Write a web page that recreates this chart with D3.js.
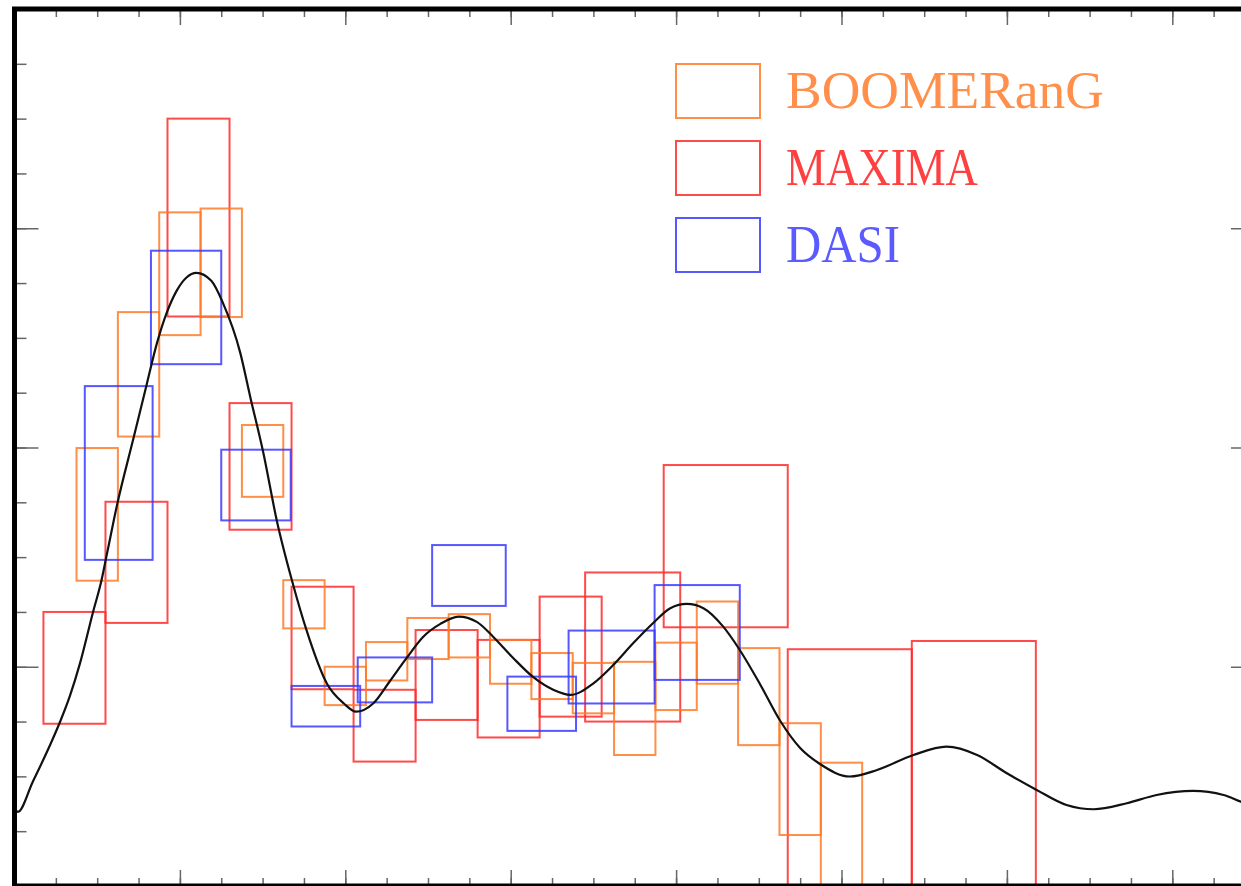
<!DOCTYPE html>
<html>
<head>
<meta charset="utf-8">
<script src="https://cdn.jsdelivr.net/npm/d3@7"></script>
<style>
  body { margin: 0; background: #fff; }
</style>
</head>
<body>
<div id="chart"></div>
<script>
// band powers, one box per bin: [l_min, l_max, low, high]
const boomerang = [
  [75, 125, 2785, 3995],
  [125, 175, 4100, 5235],
  [175, 225, 5025, 6145],
  [225, 275, 5190, 6180],
  [275, 325, 3550, 4205],
  [325, 375, 2350, 2790],
  [375, 425, 1650, 2000],
  [425, 475, 1875, 2225],
  [475, 525, 2070, 2445],
  [525, 575, 2085, 2480],
  [575, 625, 1845, 2245],
  [625, 675, 1705, 2125],
  [675, 725, 1575, 2035],
  [725, 775, 1195, 2045],
  [775, 825, 1605, 2220],
  [825, 875, 1845, 2595],
  [875, 925, 1285, 2170],
  [925, 975, 465, 1485],
  [975, 1025, -300, 1125]
];

const maxima = [
  [35, 110, 1480, 2500],
  [110, 185, 2400, 3505],
  [185, 260, 5195, 7000],
  [260, 335, 3250, 4405],
  [335, 410, 1795, 2730],
  [410, 485, 1135, 1790],
  [485, 560, 1515, 2335],
  [560, 635, 1355, 2245],
  [635, 710, 1545, 2640],
  [690, 805, 1500, 2860],
  [785, 935, 2360, 3840],
  [935, 1085, -500, 2160],
  [1085, 1235, -500, 2235]
];

const dasi = [
  [85, 167, 2975, 4560],
  [165, 250, 4760, 5795],
  [250, 334, 3335, 3980],
  [335, 418, 1455, 1825],
  [415, 505, 1675, 2085],
  [505, 594, 2555, 3110],
  [596, 679, 1415, 1910],
  [670, 774, 1665, 2330],
  [774, 877, 1880, 2745]
];

// model curve
const theoryL = [2, 4, 22, 43, 55, 67, 79, 95, 105, 112, 124, 144, 160, 172, 184, 196, 208,
  220, 238, 252, 273, 285, 301, 317, 337, 353, 378, 398, 413, 434, 454, 474, 494, 515,
  537, 559, 579, 603, 627, 652, 672, 700, 724, 748, 772, 793, 813, 833, 857, 877, 902,
  926, 950, 974, 1010, 1043, 1087, 1127, 1164, 1200, 1236, 1272, 1305, 1345, 1381, 1425,
  1462, 1483, 1500];
const theoryD = [690, 675, 949, 1286, 1496, 1734, 2026, 2500, 2783, 3038, 3476, 4088, 4580, 4945, 5228, 5429, 5551,
  5593, 5520, 5319, 4863, 4464, 3948, 3339, 2746, 2336, 1843, 1667, 1590, 1667, 1870, 2078, 2272, 2391,
  2457, 2409, 2272, 2080, 1907, 1788, 1743, 1849, 2016, 2214, 2397, 2534, 2573, 2534, 2366, 2153, 1834,
  1505, 1259, 1113, 999, 1058, 1195, 1271, 1195, 1028, 876, 739, 700, 755, 830, 867,
  830, 769, 725];

const legendNames = ["BOOMERanG", "MAXIMA", "DASI"];

const W = 1241, H = 886;
const colors = { BOOMERanG: "#ff7a26", MAXIMA: "#ff2a2a", DASI: "#3a3aff" };
const textColors = { BOOMERanG: "#ff8f4a", MAXIMA: "#ff4040", DASI: "#5a5aff" };

const svg = d3.select("#chart").append("svg")
  .attr("width", W)
  .attr("height", H);

const x = d3.scaleLinear().domain([0, 1500]).range([14.5, 1255]);
const y = d3.scaleLinear().domain([0, 8000]).range([886, 9]);

svg.append("defs").append("clipPath").attr("id", "plot")
  .append("rect")
  .attr("x", x(0)).attr("y", y(8000))
  .attr("width", x(1500) - x(0)).attr("height", y(0) - y(8000));

const plot = svg.append("g").attr("clip-path", "url(#plot)");

function drawBoxes(rows, name) {
  plot.append("g")
    .selectAll("rect")
    .data(rows)
    .join("rect")
    .attr("x", d => x(d[0]))
    .attr("y", d => y(d[3]))
    .attr("width", d => x(d[1]) - x(d[0]))
    .attr("height", d => y(d[2]) - y(d[3]))
    .attr("fill", "none")
    .attr("stroke", colors[name])
    .attr("stroke-width", 2)
    .attr("stroke-opacity", 0.85);
}

drawBoxes(maxima, "MAXIMA");
drawBoxes(boomerang, "BOOMERanG");
drawBoxes(dasi, "DASI");

// theory line
const line = d3.line()
  .x((d, i) => x(theoryL[i]))
  .y(d => y(d))
  .curve(d3.curveMonotoneX);

plot.append("path")
  .datum(theoryD)
  .attr("d", line)
  .attr("fill", "none")
  .attr("stroke", "#111")
  .attr("stroke-width", 2.2);

// ticks, inward, no labels
function ticks(axis, tr, vals, size) {
  svg.append("g")
    .attr("transform", tr)
    .call(axis.tickValues(vals).tickSize(size).tickFormat(""))
    .call(g => g.select(".domain").remove())
    .call(g => g.selectAll("line").attr("stroke", "#666").attr("stroke-width", 1.5));
}

const xMinor = d3.range(50, 1500, 50), xMajor = d3.range(200, 1500, 200);
const yMinor = d3.range(500, 8000, 500), yMajor = d3.range(2000, 8000, 2000);

ticks(d3.axisBottom(x), `translate(0,${y(0)})`, xMinor, -8);
ticks(d3.axisBottom(x), `translate(0,${y(0)})`, xMajor, -16);
ticks(d3.axisTop(x), `translate(0,${y(8000)})`, xMinor, -8);
ticks(d3.axisTop(x), `translate(0,${y(8000)})`, xMajor, -16);
ticks(d3.axisLeft(y), `translate(${x(0)},0)`, yMinor, -12);
ticks(d3.axisLeft(y), `translate(${x(0)},0)`, yMajor, -24);
ticks(d3.axisRight(y), `translate(${x(1500)},0)`, yMinor, -12);
ticks(d3.axisRight(y), `translate(${x(1500)},0)`, yMajor, -24);

// frame
svg.append("rect")
  .attr("x", x(0)).attr("y", y(8000))
  .attr("width", x(1500) - x(0)).attr("height", y(0) - y(8000))
  .attr("fill", "none")
  .attr("stroke", "#000")
  .attr("stroke-width", 5);

// legend
const legend = svg.append("g").attr("transform", "translate(676,64)");
const textWidths = [318, 192, 114];
legendNames.forEach((name, i) => {
  const g = legend.append("g").attr("transform", `translate(0,${i * 77})`);
  g.append("rect")
    .attr("width", 84).attr("height", 54)
    .attr("fill", "none")
    .attr("stroke", colors[name])
    .attr("stroke-width", 2)
    .attr("stroke-opacity", 0.85);
  g.append("text")
    .attr("x", 110).attr("y", 44)
    .attr("font-family", "Liberation Serif, serif")
    .attr("font-size", 52)
    .attr("fill", textColors[name])
    .attr("textLength", textWidths[i])
    .attr("lengthAdjust", "spacingAndGlyphs")
    .text(name);
});
</script>
</body>
</html>
